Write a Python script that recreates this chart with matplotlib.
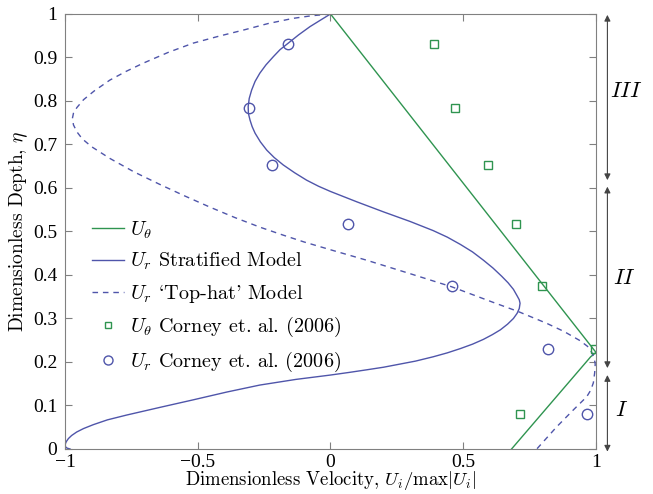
import numpy as np
import matplotlib
matplotlib.use("Agg")
import matplotlib.pyplot as plt

plt.rcParams['mathtext.fontset'] = 'cm'
plt.rcParams['axes.unicode_minus'] = True

# U_theta model (straight segments)
ut_x = [0.0, 1.0, 0.98, 0.682]
ut_y = [1.0, 0.222, 0.212, 0.0]

# U_r stratified model
us_x = [0.0, -0.04, -0.077, -0.12, -0.159, -0.19, -0.215, -0.243, -0.266, -0.284,
        -0.297, -0.306, -0.310, -0.309, -0.303, -0.295, -0.284, -0.264, -0.240, -0.212,
        -0.178, -0.135, -0.090, -0.045, 0.0, 0.10, 0.20, 0.30, 0.387, 0.44,
        0.49, 0.535, 0.576, 0.612, 0.645, 0.669, 0.689, 0.703, 0.711, 0.714,
        0.711, 0.703, 0.689, 0.667, 0.640, 0.61, 0.576, 0.535, 0.49, 0.44,
        0.387, 0.32, 0.26, 0.20, 0.136, 0.07, 0.0, -0.13, -0.266, -0.39,
        -0.517, -0.64, -0.768, -0.84, -0.893, -0.93, -0.956, -0.975, -0.987, -0.995,
        -1.0, -0.998, -0.992, -0.981]
us_y = [1.0, 0.985, 0.971, 0.952, 0.933, 0.918, 0.902, 0.883, 0.864, 0.845,
        0.825, 0.806, 0.787, 0.771, 0.756, 0.741, 0.726, 0.706, 0.687, 0.670,
        0.653, 0.635, 0.618, 0.604, 0.592, 0.568, 0.545, 0.523, 0.502, 0.487,
        0.470, 0.453, 0.434, 0.416, 0.397, 0.382, 0.367, 0.352, 0.343, 0.335,
        0.323, 0.312, 0.300, 0.287, 0.274, 0.263, 0.252, 0.241, 0.231, 0.221,
        0.212, 0.202, 0.195, 0.188, 0.182, 0.176, 0.170, 0.160, 0.147, 0.131,
        0.113, 0.096, 0.078, 0.067, 0.056, 0.047, 0.039, 0.031, 0.024, 0.017,
        0.010, 0.005, 0.002, 0.0]

# U_r top-hat model
uh_x = [0.0, -0.07, -0.14, -0.235, -0.328, -0.42, -0.517, -0.61, -0.705, -0.77,
        -0.831, -0.89, -0.93, -0.955, -0.968, -0.972, -0.968, -0.955, -0.935, -0.90,
        -0.831, -0.74, -0.642, -0.55, -0.454, -0.36, -0.266, -0.18, -0.10, 0.0,
        0.136, 0.30, 0.456, 0.613, 0.707, 0.814, 0.880, 0.940, 0.968, 0.984,
        0.994, 0.997, 0.995, 0.990, 0.980, 0.965, 0.915, 0.852, 0.777]
uh_y = [1.0, 0.996, 0.990, 0.978, 0.963, 0.949, 0.933, 0.912, 0.887, 0.868,
        0.848, 0.823, 0.803, 0.785, 0.772, 0.760, 0.745, 0.729, 0.713, 0.695,
        0.668, 0.637, 0.608, 0.582, 0.556, 0.532, 0.510, 0.492, 0.476, 0.458,
        0.434, 0.403, 0.373, 0.337, 0.316, 0.289, 0.270, 0.249, 0.236, 0.222,
        0.207, 0.195, 0.175, 0.152, 0.135, 0.120, 0.090, 0.051, 0.0]

# Corney et al. (2006) data
eta_exp = [0.93, 0.785, 0.652, 0.518, 0.374, 0.229, 0.08]
ut_exp = [0.39, 0.47, 0.592, 0.70, 0.795, 0.995, 0.713]
ur_exp = [-0.159, -0.308, -0.219, 0.066, 0.456, 0.818, 0.967]

# regions
regions = ["$III$", "$II$", "$I$"]
reg_top = [0.998, 0.603, 0.170]
reg_bot = [0.618, 0.186, -0.006]
reg_lab_y = [0.822, 0.393, 0.09]
reg_lab_x = [1.058, 1.053, 1.048]

blue = '#4f55aa'
green = '#2f9450'

fig = plt.figure(figsize=(6.53, 4.94), dpi=100)
ax = fig.add_axes([0.0995, 0.0911, 0.8132, 0.8806])

ax.plot(ut_x, ut_y, '-', color=green, lw=1.0, label=r'$U_\theta$')
ax.plot(us_x, us_y, '-', color=blue, lw=1.0, label=r'$U_r$ Stratified Model')
ax.plot(uh_x, uh_y, '--', color=blue, lw=1.0, dashes=(4, 3.5), label=r"$U_r$ `Top-hat' Model")
ax.plot(ut_exp, eta_exp, 's', ms=6, mfc='none', mec=green, mew=1.0, label=r'$U_\theta$ Corney et. al. (2006)')
ax.plot(ur_exp, eta_exp, 'o', ms=7.5, mfc='none', mec=blue, mew=1.0, label=r'$U_r$ Corney et. al. (2006)')

ax.set_xlim(-1, 1)
ax.set_ylim(0, 1)
ax.set_xticks([-1, -0.5, 0, 0.5, 1])
ax.set_xticklabels(['\u22121', '\u22120.5', '0', '0.5', '1'])
ax.set_yticks(np.arange(0, 1.01, 0.1))
ax.set_yticklabels(['0', '0.1', '0.2', '0.3', '0.4', '0.5', '0.6', '0.7', '0.8', '0.9', '1'])
for lab in ax.get_xticklabels() + ax.get_yticklabels():
    lab.set_family('Liberation Serif')
    lab.set_fontsize(14)
ax.tick_params(direction='in', top=True, right=True, length=5, color='#808080')
ax.tick_params(axis='x', pad=3.5)
ax.tick_params(axis='y', pad=5.5)
for s in ax.spines.values():
    s.set_color('#808080')

ax.set_xlabel(r'Dimensionless Velocity, $U_i/\max|U_i|$', family='cmr10', fontsize=13.5, labelpad=-1)
ax.set_ylabel(r'Dimensionless Depth, $\eta$', family='cmr10', fontsize=14, labelpad=2)

leg = ax.legend(loc='upper left', bbox_to_anchor=(0.05, 0.528), frameon=False,
                prop={'family': 'cmr10', 'size': 14.5}, handlelength=1.6, handletextpad=0.3,
                labelspacing=0.5, borderpad=0, borderaxespad=0, numpoints=1)
leg.legend_handles[3].set_markersize(5)
leg.legend_handles[4].set_markersize(6.5)

tr = ax.get_yaxis_transform()
for lab, t, b, ly, lx in zip(regions, reg_top, reg_bot, reg_lab_y, reg_lab_x):
    ax.annotate('', xy=(1.0215, t), xytext=(1.0215, b), xycoords=tr, textcoords=tr,
                annotation_clip=False,
                arrowprops=dict(arrowstyle='<|-|>', color='#444444', lw=0.8,
                                mutation_scale=9, shrinkA=0, shrinkB=0))
    ax.text(lx, ly, lab, transform=tr, ha='center', va='center', fontsize=16)

fig.savefig('out.png', dpi=100)
